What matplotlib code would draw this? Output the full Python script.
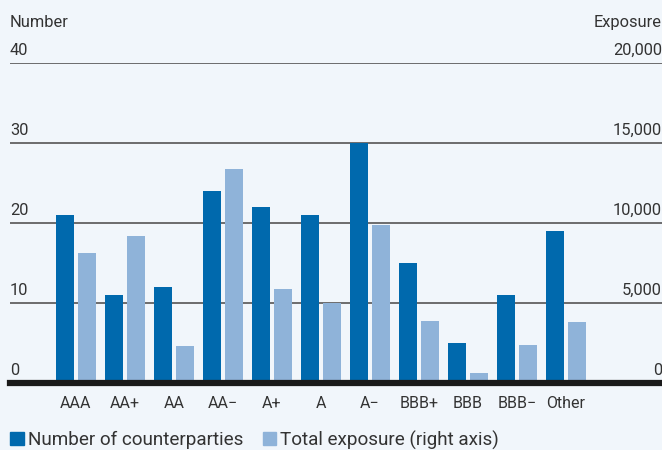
import numpy as np
import matplotlib.pyplot as plt
from matplotlib.patches import Patch

ratings = ['AAA', 'AA+', 'AA', 'AA\u2212', 'A+', 'A', 'A\u2212', 'BBB+', 'BBB', 'BBB\u2212', 'Other']
counterparties = [21, 11, 12, 24, 22, 21, 30, 15, 5, 11, 19]
exposure = [8100, 9200, 2300, 13400, 5900, 5000, 9900, 3900, 600, 2400, 3800]

left_ticks = [0, 10, 20, 30, 40]
right_ticks = [0, 5000, 10000, 15000, 20000]

DARK = '#0069ad'
LIGHT = '#8fb3d9'
BG = '#f1f6fb'
TEXT = '#333333'

plt.rcParams['font.family'] = ['Roboto', 'DejaVu Sans']

fig = plt.figure(figsize=(6.62, 4.5), dpi=100, facecolor=BG)
ax = fig.add_axes([10 / 662, 1 - 383 / 450, 1 - 10 / 662, 320 / 450])
ax.set_facecolor(BG)
ax2 = ax.twinx()
ax2.patch.set_visible(False)

x = np.arange(len(ratings))
WIDTH = 0.367
OFF = 0.224

ax.bar(x - OFF, counterparties, width=WIDTH, color=DARK)
ax2.bar(x + OFF, exposure, width=WIDTH, color=LIGHT)

ax.set_xlim(-1.347, 11.96)
ax.set_ylim(0, 40)
ax2.set_ylim(0, 20000)

for a in (ax, ax2):
    for s in a.spines.values():
        s.set_visible(False)
    a.set_yticks([])

# horizontal grid behind everything
for v in left_ticks[1:]:
    ax.axhline(v, color='#555555', lw=1.2, zorder=0)
ax2.axhline(0, color='#1a1a1a', lw=4.5, zorder=5, clip_on=False)

# left axis labels sit above the grid lines
ytr = ax.get_yaxis_transform()
for v in left_ticks:
    ax.text(0, v + 0.6, str(v), transform=ytr, ha='left', va='bottom',
            fontsize=11.8, color=TEXT)
ax.text(0, 44.1, 'Number', transform=ytr, ha='left', va='bottom',
        fontsize=11.8, color=TEXT)

ytr2 = ax2.get_yaxis_transform()
for v in right_ticks:
    ax2.text(1.0, v + 300, f'{v:,}', transform=ytr2, ha='right', va='bottom',
             fontsize=11.8, color=TEXT)
ax2.text(0.999, 22050, 'Exposure', transform=ytr2, ha='right', va='bottom',
         fontsize=11.8, color=TEXT)

ax.set_xticks(x)
ax.set_xticklabels(ratings, fontsize=11.5, color=TEXT)
ax.tick_params(axis='x', length=0, pad=9)

handles = [Patch(color=DARK, label='Number of counterparties'),
           Patch(color=LIGHT, label='Total exposure (right axis)')]
fig.legend(handles=handles, loc='lower left', bbox_to_anchor=(1 / 662, -0.02),
           ncol=2, frameon=False, fontsize=13.6, handlelength=0.7,
           handleheight=0.7, handletextpad=0.21, columnspacing=1.06,
           borderpad=0, labelcolor=TEXT)

fig.savefig('out.png', dpi=100, facecolor=BG)
